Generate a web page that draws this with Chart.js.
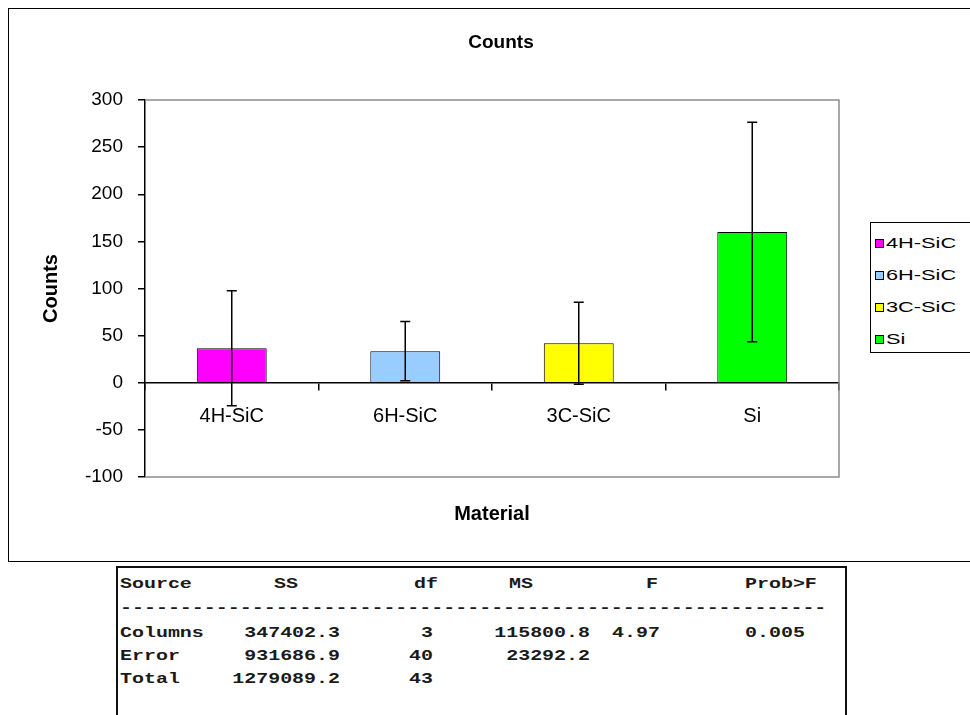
<!DOCTYPE html>
<html>
<head>
<meta charset="utf-8">
<script src="https://cdn.jsdelivr.net/npm/chart.js@4.4.1/dist/chart.umd.min.js"></script>
<style>
    html, body { margin: 0; padding: 0; background: #fff; overflow: hidden; width: 970px; height: 715px; }
    #chartBox { position: absolute; left: 8px; top: 8px; width: 984px; height: 552px; border: 1px solid #000; }
    #legendBox { position: absolute; left: 870px; top: 222px; width: 130px; height: 129px; border: 1px solid #000; background: #fff; }
    .lg-item { position: absolute; left: 0; height: 20px; line-height: 20px; font-family: "Liberation Sans", Arial, sans-serif; font-size: 15px; color: #000; white-space: nowrap; }
    .lg-sw { position: absolute; left: 4px; top: 6px; width: 7px; height: 7px; border: 1px solid #000; }
    .lg-tx { position: absolute; left: 15px; top: 0; transform: scaleX(1.45); transform-origin: left center; }
    #anova { position: absolute; left: 116px; top: 566px; width: 727px; height: 170px; border: 2px solid #111; background: #fff; }
    .cell { position: absolute; height: 20px; line-height: 20px; font-family: "Liberation Mono", "DejaVu Sans Mono", monospace; font-weight: bold; font-size: 15px; color: #1a1a1a; white-space: pre; }
</style>
</head>
<body>
<div id="chartBox"><canvas id="barChart" width="984" height="552"></canvas></div>
<div id="legendBox"></div>
<div id="anova"></div>
<script>
// chart data
const materials = ['4H-SiC', '6H-SiC', '3C-SiC', 'Si'];
const meanCounts = [36.5, 33.5, 42, 160];
const errCounts = [61, 31.5, 43.5, 116.5];
const barColors = ['#ff00ff', '#99ccff', '#ffff00', '#00ff00'];
const yTicks = [-100, -50, 0, 50, 100, 150, 200, 250, 300];

// anova table text
const anovaHeader = ['Source', 'SS', 'df', 'MS', 'F', 'Prob>F'];
const anovaDashes = '-----------------------------------------------------------';
const anovaRows = [
    ['Columns', '347402.3', '3', '115800.8', '4.97', '0.005'],
    ['Error', '931686.9', '40', '23292.2', '', ''],
    ['Total', '1279089.2', '43', '', '', '']
];

const FONT = '"Liberation Sans", Arial, sans-serif';

// error bars drawn through the y scale
const errorBarPlugin = {
    id: 'errorBars',
    afterDatasetsDraw: function (chart) {
        var ctx = chart.ctx;
        var y = chart.scales.y;
        var meta = chart.getDatasetMeta(0);
        ctx.save();
        ctx.strokeStyle = '#000';
        ctx.lineWidth = 1.5;
        meta.data.forEach(function (bar, i) {
            var top = y.getPixelForValue(meanCounts[i] + errCounts[i]);
            var bot = y.getPixelForValue(meanCounts[i] - errCounts[i]);
            ctx.beginPath();
            ctx.moveTo(bar.x, top); ctx.lineTo(bar.x, bot);
            ctx.moveTo(bar.x - 5, top); ctx.lineTo(bar.x + 5, top);
            ctx.moveTo(bar.x - 5, bot); ctx.lineTo(bar.x + 5, bot);
            ctx.stroke();
        });
        ctx.restore();
    }
};

// gray frame round the plot area (top, right, bottom)
const plotFramePlugin = {
    id: 'plotFrame',
    beforeDatasetsDraw: function (chart) {
        var a = chart.chartArea;
        var ctx = chart.ctx;
        ctx.save();
        ctx.strokeStyle = '#8c8c8c';
        ctx.lineWidth = 1.5;
        ctx.beginPath();
        ctx.moveTo(a.left, a.top); ctx.lineTo(a.right, a.top);
        ctx.lineTo(a.right, a.bottom); ctx.lineTo(a.left, a.bottom);
        ctx.stroke();
        ctx.restore();
    }
};

function barChart() {
    var ctx = document.getElementById('barChart').getContext('2d');
    new Chart(ctx, {
        type: 'bar',
        data: {
            labels: materials,
            datasets: [{
                label: 'Counts',
                data: meanCounts,
                backgroundColor: barColors,
                borderColor: '#000',
                borderWidth: 1,
                barPercentage: 0.403,
                categoryPercentage: 1
            }]
        },
        options: {
            responsive: false,
            animation: false,
            layout: { padding: 0 },
            plugins: {
                legend: { display: false },
                tooltip: { enabled: false },
                title: {
                    display: true,
                    text: 'Counts',
                    color: '#000',
                    font: { family: FONT, size: 19, weight: 'bold' },
                    padding: { top: 22.6, bottom: 45.6 }
                },
                subtitle: {
                    display: true,
                    position: 'bottom',
                    fullSize: false,
                    text: 'Material',
                    color: '#000',
                    font: { family: FONT, size: 20, weight: 'bold' },
                    padding: { top: 25, bottom: 35 }
                }
            },
            scales: {
                x: {
                    position: { y: 0 },
                    offset: true,
                    ticks: { color: '#000', font: { family: FONT, size: 20 }, padding: 15 },
                    grid: { offset: true, drawOnChartArea: false, color: '#000', tickLength: 7, lineWidth: 1.5 },
                    border: { color: '#000', width: 1.5 }
                },
                y: {
                    min: -100,
                    max: 300,
                    afterBuildTicks: function (scale) {
                        scale.ticks = yTicks.map(function (v) { return { value: v }; });
                    },
                    ticks: { color: '#000', font: { family: FONT, size: 19 }, padding: 15 },
                    grid: { drawOnChartArea: false, color: '#000', tickLength: 7, lineWidth: 1.5 },
                    border: { color: '#000', width: 1.5 },
                    title: {
                        display: true,
                        text: 'Counts',
                        color: '#000',
                        font: { family: FONT, size: 20, weight: 'bold' },
                        padding: { top: 30, bottom: 0 }
                    },
                    afterFit: function (scale) { scale.width = 136; }
                },
                // empty spacer where the legend sits
                y2: {
                    type: 'linear',
                    position: 'right',
                    display: true,
                    grid: { display: false, drawTicks: false },
                    border: { display: false },
                    ticks: { display: false },
                    afterFit: function (scale) { scale.width = 154; }
                }
            }
        },
        plugins: [plotFramePlugin, errorBarPlugin]
    });
}

function legendBox() {
    var box = document.getElementById('legendBox');
    materials.forEach(function (name, i) {
        var item = document.createElement('div');
        item.className = 'lg-item';
        item.style.top = (10 + i * 32) + 'px';
        item.innerHTML = '<span class="lg-sw" style="background:' + barColors[i] + '"></span><span class="lg-tx">' + name + '</span>';
        box.appendChild(item);
    });
}

function anovaTable() {
    var box = document.getElementById('anova');
    // page x anchors for header and data columns
    var headX = [120, 274, 414, 509, 646, 745];
    var dataX = [[120, 'l'], [340, 'r'], [433, 'r'], [590, 'r'], [612, 'l'], [745, 'l']];
    var rowY = [585, 634, 657, 680];
    function put(text, x, align, yc) {
        var c = document.createElement('div');
        c.className = 'cell';
        c.textContent = text;
        c.style.top = (yc - 10 - 568) + 'px';
        if (align === 'r') {
            c.style.right = (845 - x) + 'px';
            c.style.transformOrigin = 'right center';
        } else {
            c.style.left = (x - 118) + 'px';
            c.style.transformOrigin = 'left center';
        }
        c.style.transform = 'scaleX(1.33)';
        box.appendChild(c);
        return c;
    }
    anovaHeader.forEach(function (t, j) { put(t, headX[j], 'l', rowY[0]); });
    put(anovaDashes, 120, 'l', 609);
    anovaRows.forEach(function (row, r) {
        row.forEach(function (t, j) {
            if (t) put(t, dataX[j][0], dataX[j][1], rowY[r + 1]);
        });
    });
}

barChart();
legendBox();
anovaTable();
</script>
</body>
</html>
